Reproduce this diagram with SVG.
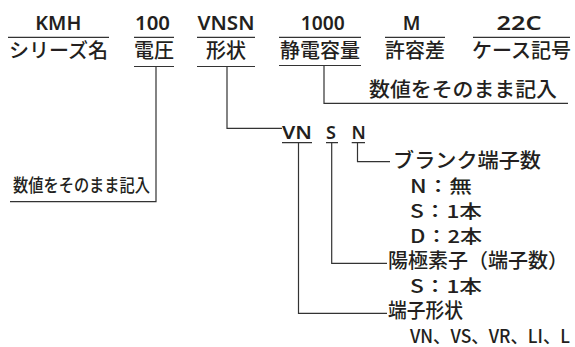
<svg xmlns="http://www.w3.org/2000/svg" width="575" height="347" viewBox="0 0 575 347">
<style>
text{font-family:"Noto Sans CJK JP","Noto Sans",sans-serif;fill:#231f20;}
.code{font-family:"Noto Sans","Noto Sans CJK JP",sans-serif;font-size:19px;font-weight:600;text-anchor:middle;}
.lbl{font-size:20px;font-weight:500;text-anchor:middle;}
.t{font-size:20px;font-weight:500;}
.s{font-size:18px;font-weight:500;}
.c2{font-family:"Noto Sans","Noto Sans CJK JP",sans-serif;font-size:18px;font-weight:600;}
.ln{stroke:#333;stroke-width:1.2;fill:none;}
</style>
<rect width="575" height="347" fill="#fff"/>
<g id="connectors" class="ln">
<path d="M8 37.3H109M134 37.3H174M197 37.3H255M279 37.3H361M385 37.3H445M473 37.3H570"/>
<path d="M134 66.5H174M197 66.5H255M279 65.5H361"/>
<path d="M156 66.5V201.7H10"/>
<path d="M227 66.5V128.3H282"/>
<path d="M324 65.5V103.3H568"/>
<path d="M282 142.7H312M326 142.7H338M351.7 142.7H365"/>
<path d="M298.5 142.7V313.3H387"/>
<path d="M331.7 142.7V263.3H387"/>
<path d="M357.5 142.7V161.7H390"/>
</g>
<g id="n-series"><text class="code" x="58.3" y="30" textLength="46" lengthAdjust="spacingAndGlyphs">KMH</text><text class="lbl" x="58.5" y="58">シリーズ名</text></g>
<g id="n-voltage"><text class="code" x="152.5" y="30" textLength="35" lengthAdjust="spacingAndGlyphs">100</text><text class="lbl" x="154" y="58">電圧</text></g>
<g id="n-shape"><text class="code" x="226" y="30" textLength="57" lengthAdjust="spacingAndGlyphs">VNSN</text><text class="lbl" x="226" y="58">形状</text></g>
<g id="n-cap"><text class="code" x="322.8" y="30" textLength="44" lengthAdjust="spacingAndGlyphs">1000</text><text class="lbl" x="320" y="58">静電容量</text></g>
<g id="n-tol"><text class="code" x="411.7" y="30">M</text><text class="lbl" x="415" y="58">許容差</text></g>
<g id="n-case"><text class="code" x="519" y="30" textLength="45" lengthAdjust="spacingAndGlyphs">22C</text><text class="lbl" x="521.5" y="58">ケース記号</text></g>
<g id="n-cap-note"><text class="t" x="369" y="97" textLength="188" lengthAdjust="spacingAndGlyphs">数値をそのまま記入</text></g>
<g id="n-volt-note"><text class="t" x="13" y="191.5" style="font-size:18px" textLength="137" lengthAdjust="spacingAndGlyphs">数値をそのまま記入</text></g>
<g id="n-sub"><text class="c2" x="282" y="139" textLength="30" lengthAdjust="spacingAndGlyphs">VN</text><text class="c2" x="326" y="139">S</text><text class="c2" x="351.5" y="139">N</text></g>
<g id="n-blank">
<text class="t" x="393" y="168" textLength="148" lengthAdjust="spacingAndGlyphs">ブランク端子数</text>
<text class="s" x="410" y="193" textLength="62" lengthAdjust="spacingAndGlyphs">N：無</text>
<text class="s" x="410" y="218" textLength="72" lengthAdjust="spacingAndGlyphs">S：1本</text>
<text class="s" x="410" y="243" textLength="72" lengthAdjust="spacingAndGlyphs">D：2本</text>
</g>
<g id="n-anode">
<text class="t" x="388" y="268" textLength="180" lengthAdjust="spacingAndGlyphs">陽極素子（端子数）</text>
<text class="s" x="410" y="293" textLength="72" lengthAdjust="spacingAndGlyphs">S：1本</text>
</g>
<g id="n-term">
<text class="t" x="388" y="318" textLength="75" lengthAdjust="spacingAndGlyphs">端子形状</text>
<text class="s" x="410" y="343" textLength="160" lengthAdjust="spacingAndGlyphs">VN、VS、VR、LI、L</text>
</g>
</svg>
